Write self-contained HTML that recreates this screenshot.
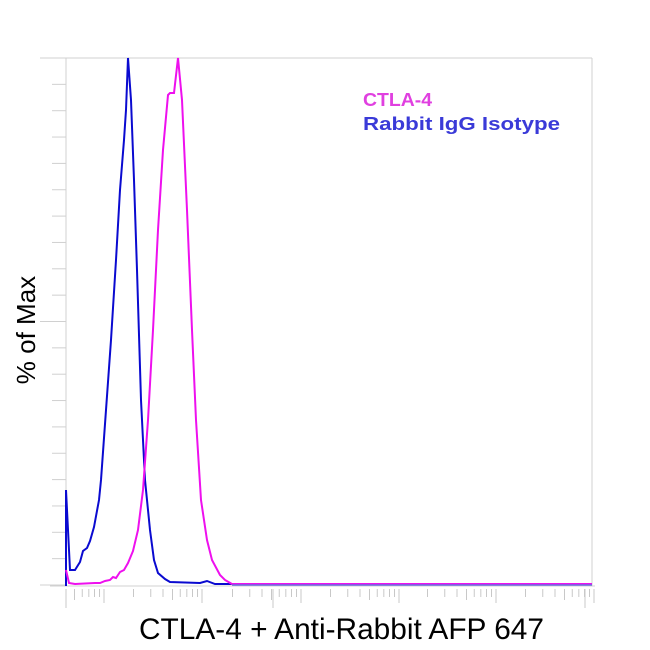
<!DOCTYPE html>
<html><head><style>body{margin:0;background:#fff}svg{display:block}</style></head><body>
<svg width="650" height="650" xmlns="http://www.w3.org/2000/svg">
<rect width="650" height="650" fill="#fff"/>
<g stroke="#d0d0d0" stroke-width="1" fill="none">
<line x1="52" y1="58" x2="592" y2="58"/>
<line x1="592" y1="58" x2="592" y2="586"/>
<line x1="66" y1="58" x2="66" y2="586"/>
<line x1="50" y1="586" x2="595" y2="586"/>
</g>
<g id="yt" stroke="#d0d0d0" stroke-width="1"></g>
<g id="xt" stroke="#c8c8c8" stroke-width="1"></g>
<polyline fill="none" stroke="#0a0ad0" stroke-width="2" points="66,586 66,490 70,570 75,570 80,562 83,551 87,548 90,541 94,527 99,500 101,480 106,410 111,340 116,260 120,190 124,140 126,110 128,58 131,100 134,180 137,270 141,400 145,480 150,530 154,560 158,573 165,579 170,582 200,583 207,581 215,584 592,584"/>
<polyline fill="none" stroke="#ee10ee" stroke-width="2" points="66,570 69,583 75,584 95,583 100,583 105,581 110,580 113,577 116,578 120,572 124,570 128,563 133,551 138,530 143,490 148,420 153,330 158,230 163,150 168,95 170,93 174,93 178,58 182,100 187,210 192,330 196,420 201,500 207,540 212,560 220,575 225,580 232,584 592,584"/>
<line x1="232" y1="585" x2="592" y2="585" stroke="#6a6ae0" stroke-width="1.5"/>
<text x="363" y="106" textLength="69" lengthAdjust="spacingAndGlyphs" font-family="Liberation Sans, sans-serif" font-weight="bold" font-size="18" fill="#e040e0">CTLA-4</text>
<text x="363" y="130" textLength="197" lengthAdjust="spacingAndGlyphs" font-family="Liberation Sans, sans-serif" font-weight="bold" font-size="18" fill="#3a3ad8">Rabbit IgG Isotype</text>
<text transform="translate(35,330) rotate(-90)" text-anchor="middle" font-family="Liberation Sans, sans-serif" font-size="26" fill="#000">% of Max</text>
<text x="139" y="639" textLength="405" lengthAdjust="spacingAndGlyphs" font-family="Liberation Sans, sans-serif" font-size="30" fill="#000">CTLA-4 + Anti-Rabbit AFP 647</text>
</svg>
<script>
var ns="http://www.w3.org/2000/svg";
var yt=document.getElementById('yt');
for(var k=0;k<=20;k++){var y=58+k*26.35;var l=document.createElementNS(ns,'line');l.setAttribute('x1',k%10==0?40:52);l.setAttribute('x2',66);l.setAttribute('y1',y);l.setAttribute('y2',y);yt.appendChild(l);}
var xt=document.getElementById('xt');
function t(x,y2){var l=document.createElementNS(ns,'line');l.setAttribute('x1',x);l.setAttribute('x2',x);l.setAttribute('y1',589);l.setAttribute('y2',y2);xt.appendChild(l);}
var decs=[6,104,203,301,398,496];
for(var i=0;i<decs.length;i++){var d=decs[i];for(var k=2;k<=9;k++){var x=d+98*Math.log10(k);if(x>70&&x<592)t(x,k==5?600:597);}t(d+98,603);}
t(66,608);t(273,608);t(585,608);
</script>
</body></html>
